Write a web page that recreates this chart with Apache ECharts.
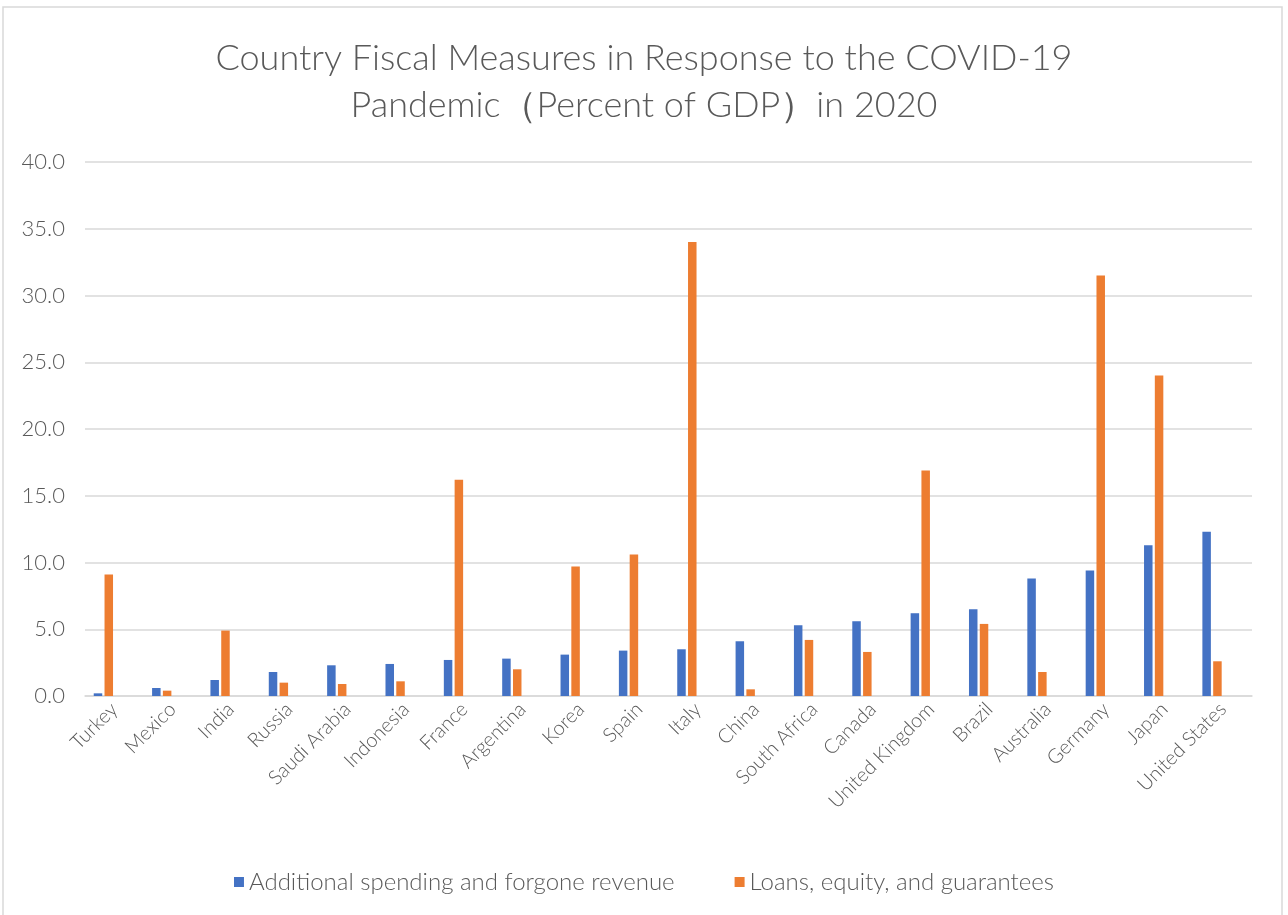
<!DOCTYPE html>
<html>
<head>
<meta charset="utf-8">
<script src="https://cdn.jsdelivr.net/npm/echarts@6/dist/echarts.min.js"></script>
<style>
  html, body { margin: 0; padding: 0; background: #fff; }
  #chart { width: 1288px; height: 915px; }
</style>
</head>
<body>
<div id="chart"></div>
<script>
var countries = ["Turkey", "Mexico", "India", "Russia", "Saudi Arabia", "Indonesia", "France",
  "Argentina", "Korea", "Spain", "Italy", "China", "South Africa", "Canada", "United Kingdom",
  "Brazil", "Australia", "Germany", "Japan", "United States"];
var spending = [0.2, 0.6, 1.2, 1.8, 2.3, 2.4, 2.7, 2.8, 3.1, 3.4, 3.5, 4.1, 5.3, 5.6, 6.2, 6.5, 8.8, 9.4, 11.3, 12.3];
var loans = [9.1, 0.4, 4.9, 1.0, 0.9, 1.1, 16.2, 2.0, 9.7, 10.6, 34.0, 0.5, 4.2, 3.3, 16.9, 5.4, 1.8, 31.5, 24.0, 2.6];
var yTicks = [0, 5, 10, 15, 20, 25, 30, 35, 40];

var textColor = "#595959";
var font = "Lato";

var chart = echarts.init(document.getElementById("chart"));
var option = {
  animation: false,
  backgroundColor: "#fff",
  title: {
    text: "Country Fiscal Measures in Response to the COVID-19\nPandemic（Percent of GDP）in 2020",
    left: "center",
    top: 30,
    textStyle: {
      color: textColor,
      fontFamily: font,
      fontWeight: 300,
      fontSize: 36,
      lineHeight: 47,
    },
  },
  legend: {
    data: ["Additional spending and forgone revenue", "Loans, equity, and guarantees"],
    bottom: 16,
    left: "center",
    icon: "rect",
    itemWidth: 10,
    itemHeight: 10,
    itemGap: 60,
    textStyle: { color: textColor, fontFamily: font, fontWeight: 300, fontSize: 24 },
  },
  graphic: [
    {
      type: "rect",
      shape: { x: 3, y: 7, width: 1279, height: 920 },
      style: { fill: "none", stroke: "#d9d9d9", lineWidth: 1.5 },
    },
  ],
  grid: { left: 85, right: 36, top: 162, bottom: 219 },
  xAxis: {
    type: "category",
    data: countries,
    axisTick: { show: false },
    axisLine: { lineStyle: { color: "#d9d9d9", width: 1.5 } },
    axisLabel: {
      rotate: 45,
      interval: 0,
      margin: 10,
      color: textColor,
      fontFamily: font,
      fontWeight: 300,
      fontSize: 20,
    },
  },
  yAxis: {
    type: "value",
    min: yTicks[0],
    max: yTicks[yTicks.length - 1],
    interval: 5,
    axisLine: { show: false },
    axisTick: { show: false },
    splitLine: { lineStyle: { color: "#d9d9d9", width: 1.5 } },
    axisLabel: {
      margin: 20,
      color: textColor,
      fontFamily: font,
      fontWeight: 300,
      fontSize: 22,
      formatter: function (v) { return v.toFixed(1); },
    },
  },
  series: [
    {
      name: "Additional spending and forgone revenue",
      type: "bar",
      data: spending,
      barWidth: 8.5,
      barGap: "27%",
      itemStyle: { color: "#4472C4" },
    },
    {
      name: "Loans, equity, and guarantees",
      type: "bar",
      data: loans,
      barWidth: 8.5,
      barGap: "27%",
      itemStyle: { color: "#ED7D31" },
    },
    // empty slots: the original chart reserves room for two more series per category
    { name: "slot3", type: "bar", data: [], barWidth: 8.5, barGap: "27%" },
    { name: "slot4", type: "bar", data: [], barWidth: 8.5, barGap: "27%" },
  ],
};
chart.setOption(option);
</script>
</body>
</html>
